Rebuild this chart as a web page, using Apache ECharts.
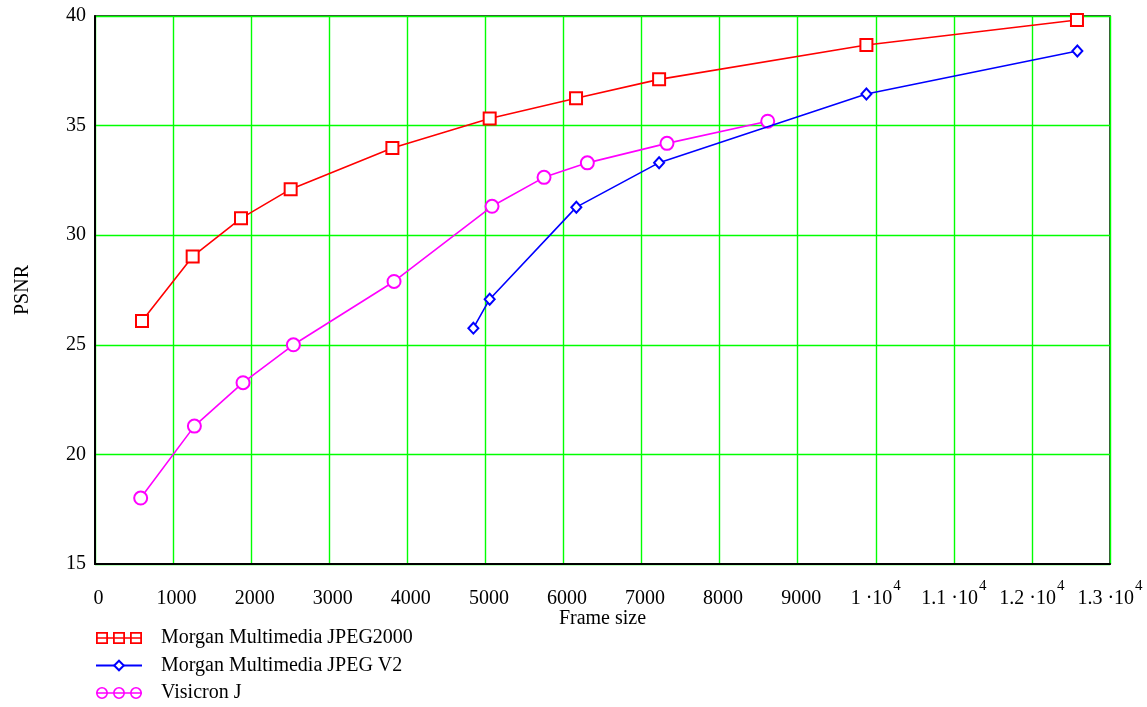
<!DOCTYPE html>
<html>
<head>
<meta charset="utf-8">
<script src="https://cdn.jsdelivr.net/npm/echarts@6/dist/echarts.min.js"></script>
<style>
  html, body { margin: 0; padding: 0; background: #fff; }
  #chart { width: 1147px; height: 707px; }
</style>
</head>
<body>
<div id="chart"></div>
<script>
// ---- data ----
const seriesNames = ['Morgan Multimedia JPEG2000', 'Morgan Multimedia JPEG V2', 'Visicron J'];

const jpeg2000X = [602, 1251, 1870, 2506, 3809, 5055, 6161, 7225, 9880, 12577];
const jpeg2000Y = [26.09, 29.03, 30.77, 32.10, 33.98, 35.32, 36.25, 37.11, 38.68, 39.82];

const jpegV2X = [4846, 5055, 6165, 7225, 9880, 12582];
const jpegV2Y = [25.76, 27.08, 31.28, 33.31, 36.44, 38.40];

const visicronX = [585, 1273, 1896, 2541, 3830, 5085, 5751, 6306, 7326, 8616];
const visicronY = [18.01, 21.29, 23.27, 25.00, 27.89, 31.32, 32.64, 33.30, 34.19, 35.20];

const xTickLabels = ['0', '1000', '2000', '3000', '4000', '5000', '6000', '7000', '8000', '9000',
  '1·10^4', '1.1·10^4', '1.2·10^4', '1.3·10^4'];
const yTickLabels = ['15', '20', '25', '30', '35', '40'];

// ---- helpers ----
function pairs(xs, ys) { return xs.map((x, i) => [x, ys[i]]); }

const FONT = '"Liberation Serif", "DejaVu Serif", serif';

// legend icons (outlined shapes with a line through them)
function squaresIcon() {
  let p = 'path://M0,5.3 H46 V6.7 H0 Z ';
  [0, 17, 34].forEach(x0 => {
    const x1 = x0 + 12;
    p += `M${x0},0 H${x1} V12 H${x0} Z `;
    p += `M${x0 + 1.8},1.8 V10.2 H${x1 - 1.8} V1.8 Z `;
  });
  return p;
}
function circlesIcon() {
  let p = 'path://M0,5.3 H46 V6.7 H0 Z ';
  [0, 17, 34].forEach(x0 => {
    const cx = x0 + 6;
    p += `M${cx - 6},6 A6,6 0 1,1 ${cx + 6},6 A6,6 0 1,1 ${cx - 6},6 Z `;
    p += `M${cx - 4.4},6 A4.4,4.4 0 1,0 ${cx + 4.4},6 A4.4,4.4 0 1,0 ${cx - 4.4},6 Z `;
  });
  return p;
}

const chart = echarts.init(document.getElementById('chart'), null, { renderer: 'canvas' });

const GRID_GREEN = '#00ff00';

const option = {
  backgroundColor: '#fff',
  animation: false,
  textStyle: { fontFamily: FONT, color: '#000' },
  grid: {
    left: 95, top: 16, right: 37, bottom: 143,
    show: true, borderColor: '#000', borderWidth: 1.5, backgroundColor: 'transparent'
  },
  legend: {
    orient: 'vertical',
    left: 95,
    top: 628,
    padding: 0,
    itemWidth: 46,
    itemHeight: 12,
    itemGap: 7.5,
    textStyle: { fontFamily: FONT, fontSize: 20, color: '#000', padding: [0, 0, 0, 14] },
    data: [
      { name: seriesNames[0], icon: squaresIcon(), itemStyle: { color: '#ff0000', borderWidth: 0 } },
      { name: seriesNames[1] },
      { name: seriesNames[2], icon: circlesIcon(), itemStyle: { color: '#ff00ff', borderWidth: 0 } }
    ]
  },
  xAxis: {
    type: 'value',
    min: 0, max: 13000, interval: 1000,
    name: 'Frame size',
    nameLocation: 'middle',
    nameGap: 45,
    nameMoveOverlap: false,
    nameTextStyle: { fontFamily: FONT, fontSize: 20, color: '#000' },
    axisLine: { show: true, onZero: false, lineStyle: { color: '#000', width: 2 } },
    axisTick: { show: false },
    splitLine: { show: true, lineStyle: { color: GRID_GREEN, width: 1.4 } },
    axisLabel: {
      margin: 15,
      fontFamily: FONT, fontSize: 20, color: '#000',
      formatter: function (v) {
        const idx = Math.round(v / 1000);
        const t = xTickLabels[idx];
        if (t === undefined) return '';
        if (t.indexOf('^') >= 0) {
          const parts = t.split('^');
          const base = parts[0].replace('·', ' ·');
          return '{b|' + base + '}{s|' + parts[1] + '}';
        }
        return '{n|' + t + '}';
      },
      rich: {
        n: { fontFamily: FONT, fontSize: 20, color: '#000', lineHeight: 30, verticalAlign: 'bottom', padding: [0, 0, 0, 7] },
        b: { fontFamily: FONT, fontSize: 20, color: '#000', lineHeight: 30, verticalAlign: 'bottom' },
        s: { fontFamily: FONT, fontSize: 15, color: '#000', lineHeight: 30, verticalAlign: 'top', padding: [0, 0, 0, 1] }
      }
    }
  },
  yAxis: {
    type: 'value',
    min: 15, max: 40, interval: 5,
    name: 'PSNR',
    nameLocation: 'middle',
    nameGap: 62,
    nameMoveOverlap: false,
    nameTextStyle: { fontFamily: FONT, fontSize: 20, color: '#000' },
    axisLine: { show: true, onZero: false, lineStyle: { color: '#000', width: 2 } },
    axisTick: { show: false },
    splitLine: { show: true, lineStyle: { color: GRID_GREEN, width: 1.4 } },
    axisLabel: {
      margin: 9,
      fontFamily: FONT, fontSize: 20, color: '#000',
      padding: [4, 0, 0, 0],
      formatter: function (v) {
        const idx = Math.round((v - 15) / 5);
        return yTickLabels[idx] !== undefined ? yTickLabels[idx] : '';
      }
    }
  },
  series: [
    {
      name: seriesNames[0],
      type: 'line',
      data: pairs(jpeg2000X, jpeg2000Y),
      symbol: 'emptyRect',
      symbolSize: 12,
      lineStyle: { color: '#ff0000', width: 1.6 },
      itemStyle: { color: '#ff0000', borderWidth: 2 },
      z: 3
    },
    {
      name: seriesNames[2],
      type: 'line',
      data: pairs(visicronX, visicronY),
      symbol: 'emptyCircle',
      symbolSize: 13,
      lineStyle: { color: '#ff00ff', width: 1.6 },
      itemStyle: { color: '#ff00ff', borderWidth: 1.8 },
      z: 3
    },
    {
      name: seriesNames[1],
      type: 'line',
      data: pairs(jpegV2X, jpegV2Y),
      symbol: 'emptyDiamond',
      symbolSize: [10, 11],
      lineStyle: { color: '#0000ff', width: 1.6 },
      itemStyle: { color: '#0000ff', borderWidth: 1.8 },
      z: 4
    }
  ]
};

chart.setOption(option);
</script>
</body>
</html>
